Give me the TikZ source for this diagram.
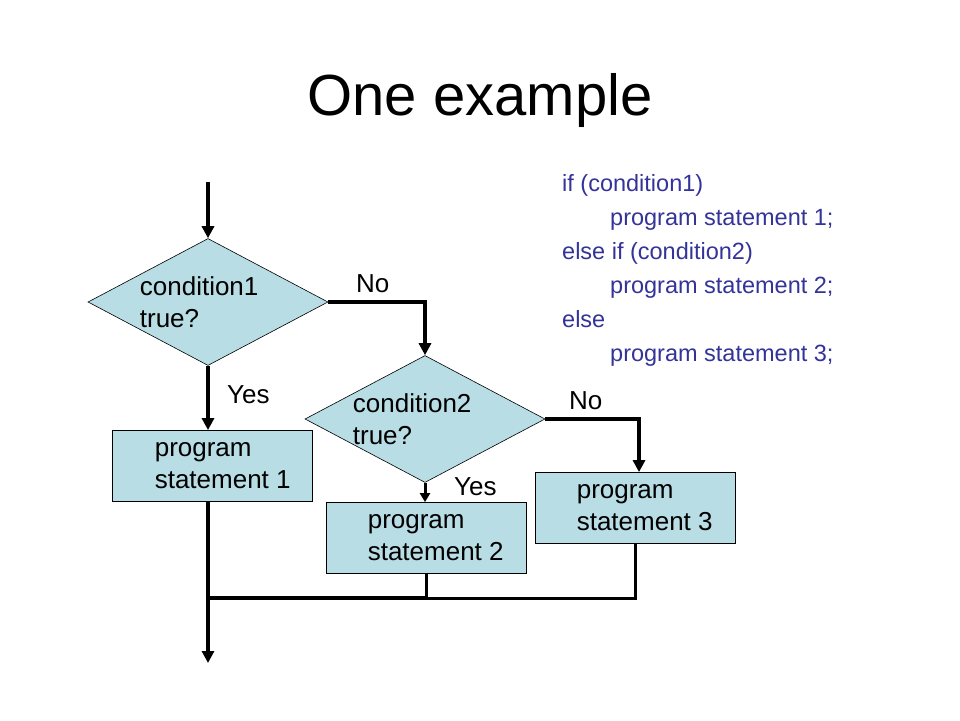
\documentclass[tikz,border=0pt]{standalone}
\usepackage{fontspec}
\setmainfont{Liberation Sans}
\usetikzlibrary{arrows.meta,positioning,shapes.geometric}
\definecolor{boxblue}{RGB}{184,221,228}
\definecolor{codeblue}{RGB}{51,51,153}
\tikzset{
    decision/.style={diamond,draw=black,line width=0.6pt,fill=boxblue,inner sep=0pt,minimum width=240pt,minimum height=127pt},%condition shape
    stmt/.style={rectangle,draw=black,line width=0.8pt,fill=boxblue,inner sep=0pt,minimum width=200pt,minimum height=71pt},
    boxtext/.style={inner sep=0pt,align=left,font=\fontsize{26}{32}\selectfont},
    branch/.style={inner sep=0pt,anchor=base west,font=\fontsize{26}{32}\selectfont},
    codeline/.style={inner sep=0pt,anchor=base west,text=codeblue,font=\fontsize{23.5}{28}\selectfont},
    flow/.style={line width=4.5pt},
    thinflow/.style={line width=3pt}
    }

\begin{document}
\begin{tikzpicture}[x=1pt,y=-1pt,>={Triangle[length=12pt,width=12pt]}]
\useasboundingbox (0,0) rectangle (960,720);
\node[inner sep=0pt,anchor=base,font=\fontsize{58}{64}\selectfont] (title) at (480,115) {One example};
% code
\foreach \x/\t [count=\i] in {562/{if (condition1)},610/{program statement 1;},562/{else if (condition2)},610/{program statement 2;},562/{else},610/{program statement 3;}}
\node[codeline] (code\i) at (\x,157+34*\i) {\t};
% shapes
\node[decision] (d1) at (208,302) {};
\node[boxtext,right=52pt of d1.west] (d1text) {condition1\\true?};
\node[decision] (d2) at (425,419) {};
\node[boxtext,right=48pt of d2.west] (d2text) {condition2\\true?};
\node[stmt] (s1) at (212,466) {};
\node[boxtext,right=43pt of s1.west] (s1text) {program\\statement 1};
\node[stmt] (s2) at (426,538) {};
\node[boxtext,right=42pt of s2.west] (s2text) {program\\statement 2};
\node[stmt] (s3) at (635,508) {};
\node[boxtext,right=42pt of s3.west] (s3text) {program\\statement 3};
% branch labels
\node[branch] (no1) at (356,292) {No};
\node[branch] (yes1) at (227,403) {Yes};
\node[branch] (no2) at (569,409) {No};
\node[branch] (yes2) at (454,495) {Yes};
% connectors
\coordinate (entry) at (208,182);
\coordinate (merge) at (208,598);
\coordinate (exit) at (208,663);
\draw[flow,->] (entry) -- (d1.north);
\draw[flow,->] (d1.south) -- (d1.south |- s1.north);
\draw[flow,->] (d1.east) -| (d2.north);
\draw[thinflow,-{Triangle[length=9pt,width=10pt]}] (d2.south) -- (d2.south |- s2.north);
\draw[flow,->] (d2.east) -| ([xshift=4pt]s3.north);
\draw[flow,->] (d1.south |- s1.south) -- (exit);
\draw[thinflow] (s3.south) |- (s2.south |- merge);
\draw[thinflow] (s2.south) -- (s2.south |- merge);
\draw[flow] (s2.south |- merge) -- (merge);
\end{tikzpicture}
\end{document}
